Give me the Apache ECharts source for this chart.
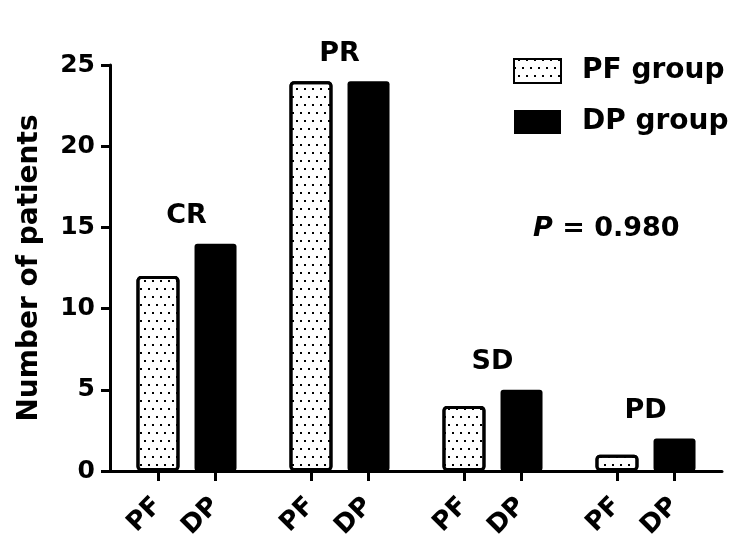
<!DOCTYPE html>
<html>
<head>
<meta charset="utf-8">
<script src="https://cdn.jsdelivr.net/npm/echarts@6/dist/echarts.min.js"></script>
<style>
html,body{margin:0;padding:0;background:#fff;}
#chart{width:744px;height:552px;}
</style>
</head>
<body>
<div id="chart"></div>
<script>
// ---- data ----
const categories = ['CR', 'PR', 'SD', 'PD'];
const pfValues = [12, 24, 4, 1];
const dpValues = [14, 24, 5, 2];
const seriesNames = ['PF group', 'DP group'];
const barTickLabels = ['PF', 'DP'];
const yMin = 0, yMax = 25, yInterval = 5;
const yAxisTitle = 'Number of patients';
const pValueLabel = 'P';
const pValueText = ' = 0.980';

// ---- build helpers ----
// tick axis: 8 slots per category, bar ticks at slots 2 and 5
const tickSlots = [];
categories.forEach(function () {
  tickSlots.push('', '', barTickLabels[0], '', '', barTickLabels[1], '', '');
});
const showSlot = function (idx, val) { return tickSlots[idx] !== ''; };
const groupTops = categories.map(function (c, i) { return Math.max(pfValues[i], dpValues[i]); });

const FONT = '"DejaVu Sans", sans-serif';

const chart = echarts.init(document.getElementById('chart'), null, { renderer: 'canvas' });
chart.setOption({
  animation: false,
  backgroundColor: '#ffffff',
  grid: { left: 110, right: 22, top: 65, bottom: 81, containLabel: false },
  legend: {
    data: seriesNames,
    orient: 'vertical',
    left: 513,
    top: 57,
    padding: 0,
    itemWidth: 47,
    itemHeight: 24,
    itemGap: 23,
    icon: 'rect',
    textStyle: { fontFamily: FONT, fontWeight: 'bold', fontSize: 28, color: '#000', padding: [0, 0, 0, 16] },
    selectedMode: false
  },
  title: {
    text: '{i|' + pValueLabel + '}{n|' + pValueText + '}',
    left: 533,
    top: 215,
    padding: 0,
    textStyle: {
      rich: {
        i: { fontFamily: FONT, fontWeight: 'bold', fontStyle: 'italic', fontSize: 27, color: '#000' },
        n: { fontFamily: FONT, fontWeight: 'bold', fontSize: 27, color: '#000' }
      }
    }
  },
  xAxis: [
    {
      type: 'category',
      data: categories,
      position: 'bottom',
      axisLine: { show: true, lineStyle: { color: '#000', width: 3 } },
      axisTick: { show: false },
      axisLabel: { show: false },
      splitLine: { show: false }
    },
    {
      type: 'category',
      data: tickSlots,
      position: 'bottom',
      gridIndex: 0,
      axisLine: { show: false },
      axisTick: { show: true, alignWithLabel: true, interval: showSlot, length: 10, lineStyle: { color: '#000', width: 3 } },
      axisLabel: { show: true, interval: showSlot, rotate: 45, margin: 31, fontFamily: FONT, fontWeight: 'bold', fontSize: 26, color: '#000' },
      splitLine: { show: false }
    }
  ],
  yAxis: {
    type: 'value',
    min: yMin,
    max: yMax,
    interval: yInterval,
    name: yAxisTitle,
    nameLocation: 'middle',
    nameRotate: 90,
    nameGap: 66,
    nameTextStyle: { fontFamily: FONT, fontWeight: 'bold', fontSize: 28, color: '#000' },
    axisLine: { show: true, lineStyle: { color: '#000', width: 3 } },
    axisTick: { show: true, inside: false, length: 9, lineStyle: { color: '#000', width: 3 } },
    axisLabel: { margin: 15, fontFamily: FONT, fontWeight: 'bold', fontSize: 25, color: '#000' },
    splitLine: { show: false }
  },
  series: [
    {
      name: seriesNames[0],
      type: 'bar',
      xAxisIndex: 0,
      data: pfValues,
      barWidth: 43,
      barGap: '35%',
      itemStyle: {
        color: '#ffffff',
        borderColor: '#000',
        borderWidth: 3,
        borderRadius: 3,
        decal: {
          symbol: 'rect',
          symbolSize: 1,
          color: '#000',
          backgroundColor: null,
          dashArrayX: [[2, 6], [0, 4, 2, 2]],
          dashArrayY: [2, 6],
          rotation: 0
        }
      }
    },
    {
      name: seriesNames[1],
      type: 'bar',
      xAxisIndex: 0,
      data: dpValues,
      barWidth: 42,
      itemStyle: { color: '#000', borderRadius: 3 }
    },
    {
      name: 'groupLabels',
      type: 'scatter',
      xAxisIndex: 0,
      data: groupTops,
      symbolSize: 0,
      silent: true,
      itemStyle: { color: '#000' },
      label: {
        show: true,
        position: 'top',
        distance: 14,
        opacity: 1,
        formatter: function (p) { return categories[p.dataIndex]; },
        fontFamily: FONT,
        fontWeight: 'bold',
        fontSize: 27,
        color: '#000'
      }
    }
  ]
});
</script>
</body>
</html>
